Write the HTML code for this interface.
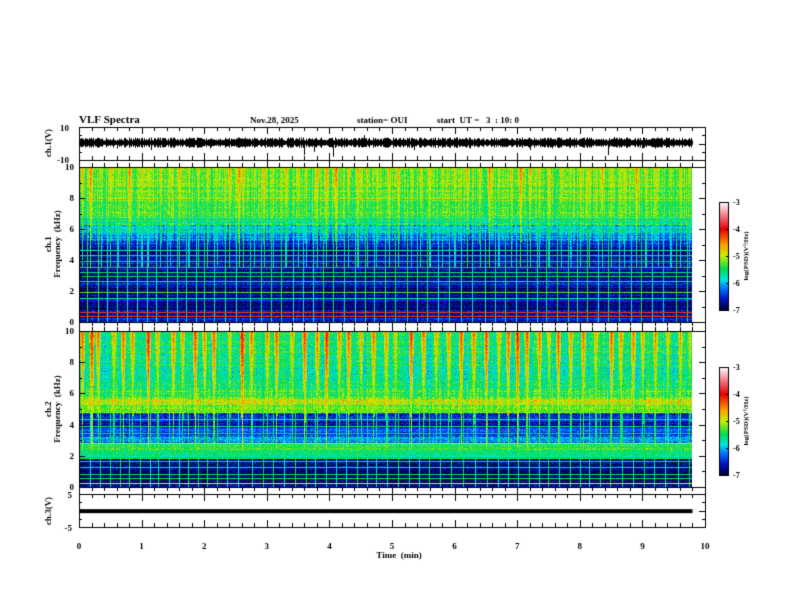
<!DOCTYPE html>
<html><head><meta charset="utf-8"><style>
body{margin:0;background:#fff;}
#wrap{position:relative;width:792px;height:612px;overflow:hidden;font-family:"Liberation Serif",serif;font-weight:bold;}
canvas{position:absolute;left:0;top:0;}
</style></head><body>
<div id="wrap">
<canvas id="c" width="792" height="612"></canvas>
</div>
<script>
// ---- data ----
const xTicks = [0,1,2,3,4,5,6,7,8,9,10];
const specTicks = [0,2,4,6,8,10];
const cbTicks = [-3,-4,-5,-6,-7];
// background log PSD per 0.5 kHz band (0..10 kHz)
const bands1 = [-6.6,-6.7,-6.8,-6.7,-6.8,-6.6,-6.8,-6.7,-6.6,-6.8,-6.5,-6.2,-5.9,-5.6,-5.4,-5.35,-5.3,-5.3,-5.25,-5.25,-5.25];
const bands2 = [-6.7,-6.8,-6.9,-6.8,-5.6,-5.5,-6.2,-6.4,-6.6,-6.5,-5.2,-5.1,-5.4,-5.6,-5.7,-5.7,-5.6,-5.6,-5.6,-5.6,-5.6];
// horizontal interference lines (kHz, level)
const hLineF1 = [4.6,4.3,3.9,3.5,3.2,2.9,2.6,1.9,1.5,0.6,0.3];
const hLineV1 = [-5.8,-5.6,-5.5,-5.6,-5.6,-5.5,-5.7,-5.3,-5.7,-4.2,-4.2];
const hLineF2 = [4.3,3.9,3.4,2.8,1.9,1.6,1.2,0.8,0.5,0.2];
const hLineV2 = [-5.7,-5.6,-5.5,-4.9,-5.5,-5.6,-5.5,-5.6,-5.5,-5.0];
// burst times (min) and peak log PSD
const burstT1 = [0.05,0.18,0.35,0.5,0.62,0.8,1.0,1.1,1.3,1.45,1.6,1.75,1.9,2.05,2.2,2.4,2.55,2.62,2.8,2.95,3.1,3.3,3.5,3.62,3.8,3.95,4.1,4.3,4.45,4.6,4.75,4.95,5.1,5.3,5.45,5.6,5.8,6.0,6.2,6.4,6.55,6.7,6.9,7.05,7.2,7.35,7.5,7.7,7.85,8.0,8.15,8.35,8.5,8.7,8.9,9.05,9.25,9.45,9.6,9.75];
const burstA1 = [-4.5,-4.3,-4.8,-4.6,-4.9,-4.4,-4.7,-4.8,-4.6,-4.9,-4.5,-4.8,-4.7,-4.6,-4.9,-4.5,-4.3,-4.6,-4.8,-4.5,-4.9,-4.6,-4.7,-4.8,-4.5,-4.4,-4.3,-4.6,-4.5,-4.7,-4.8,-4.6,-4.5,-4.9,-4.7,-4.6,-4.8,-4.7,-4.5,-4.6,-4.4,-4.8,-4.6,-4.3,-4.5,-4.7,-4.6,-4.8,-4.9,-4.7,-4.6,-4.5,-4.8,-4.7,-4.4,-4.6,-4.9,-4.8,-4.7,-4.9];
const burstT2 = [0.05,0.2,0.3,0.55,0.7,0.85,1.1,1.25,1.5,1.65,1.85,2.0,2.15,2.4,2.6,2.75,3.0,3.15,3.4,3.6,3.8,3.95,4.15,4.3,4.5,4.7,4.9,5.05,5.3,5.5,5.7,5.9,6.1,6.3,6.5,6.7,6.85,7.0,7.15,7.35,7.5,7.65,7.85,8.05,8.25,8.5,8.65,8.85,9.0,9.2,9.4,9.6,9.75];
const burstA2 = [-4.2,-4.0,-4.3,-4.5,-4.2,-4.4,-4.0,-4.5,-4.3,-4.5,-4.1,-4.4,-4.2,-4.6,-3.9,-4.3,-4.4,-4.2,-4.5,-4.1,-4.3,-4.0,-4.4,-4.2,-4.5,-4.3,-4.4,-4.6,-4.1,-4.3,-4.5,-4.4,-4.2,-4.3,-4.1,-4.5,-4.2,-4.0,-4.2,-4.3,-4.6,-4.2,-4.4,-4.3,-4.5,-4.2,-4.4,-4.3,-4.5,-4.4,-4.6,-4.5,-4.7];
// thin full-height vertical lines (min)
const vLineT = [0.1,0.27,0.42,0.58,0.73,0.9,1.06,1.2,1.37,1.53,1.68,1.83,1.97,2.13,2.3,2.47,2.7,2.87,3.03,3.2,3.38,3.55,3.7,3.87,4.03,4.2,4.37,4.53,4.68,4.85,5.02,5.2,5.37,5.53,5.7,5.87,6.07,6.25,6.45,6.62,6.78,6.95,7.12,7.28,7.43,7.6,7.78,7.93,8.08,8.25,8.42,8.6,8.78,8.95,9.12,9.3,9.5,9.68];
// ch1 waveform spikes (min, volts)
const spikeT = [0.6,1.15,2.1,3.6,3.75,4.05,4.55,5.35,6.25,7.2,7.55,8.45,8.55,9.0,9.2];
const spikeV = [-3,-4,-3,-7,-5,-8,5,-4,-3,-4,-3,-7,4,-3,-3];
const dataEnd = 9.8;

// ---- geometry ----
const X0=79, X1=705;
const P1={t:127,b:160}, S1={t:167,b:322}, S2={t:331,b:487}, P3={t:494,b:527};
const xs = m => X0 + (X1-X0)*m/10;
const c=document.getElementById('c'), g=c.getContext('2d');

function cmap(v){
  const stops=[[-7,[0,0,60]],[-6.6,[0,20,200]],[-6.2,[0,120,255]],[-5.9,[0,230,230]],[-5.5,[0,220,80]],[-5.0,[200,240,0]],[-4.6,[255,160,0]],[-4.0,[230,0,0]],[-3.5,[240,120,130]],[-3,[255,255,255]]];
  if(v<=stops[0][0])return stops[0][1];
  for(let i=1;i<stops.length;i++){if(v<=stops[i][0]){const a=stops[i-1],b=stops[i],f=(v-a[0])/(b[0]-a[0]);return a[1].map((q,k)=>q+(b[1][k]-q)*f);}}
  return stops[stops.length-1][1];
}
function hash(a,b){let h=(a*374761393+b*668265263)|0;h=(h^(h>>>13))*1274126177|0;return ((h^(h>>>16))>>>0)/4294967295;}

function drawSpec(P,bands,bT,bA,minF,hF,hV,seed){
  const w=Math.round(xs(dataEnd)-X0), h=P.b-P.t, pxm=xs(1)-X0;
  const img=g.createImageData(w,h);
  const rowNoise=[];for(let y=0;y<h;y++)rowNoise.push((hash(y,seed)-0.5)*0.35);
  const colNoise=[];for(let x=0;x<w;x++)colNoise.push((hash(seed,x)-0.5)*0.5);
  const vx=vLineT.map(t=>Math.round((t+seed*0.003)*pxm));
  const hy=hF.map(f=>Math.round((h-1)*(1-f/10)));
  for(let y=0;y<h;y++){
    const f=10*(h-1-y)/(h-1); const bi=Math.min(20,Math.round(f*2));
    for(let x=0;x<w;x++){
      const m=x/pxm;
      let v=bands[bi]+rowNoise[y]+colNoise[x]*(f>5?1:0.3)+(hash(x*7+y,seed)-0.5)*0.5;
      for(let i=0;i<bT.length;i++){
        const d=Math.abs(m-bT[i])*pxm;
        const fr=Math.max(0,(f-minF)/(10-minF));
        const hw=0.6+fr*2.2;
        if(d<hw && f>minF-1.5){const bv=bA[i]-(1-fr)*1.0-d*0.3+(hash(x,y*3+i)-0.5)*0.5; if(bv>v)v=bv;}
      }
      for(let k=0;k<vx.length;k++){if(x===vx[k]){v=Math.max(v,-5.7+(hash(k,seed)-0.5)*0.6);}}
      for(let k=0;k<hy.length;k++){if(y===hy[k]){v=Math.max(v,hV[k]);}}
      const col=cmap(v),k=(y*w+x)*4;
      img.data[k]=col[0];img.data[k+1]=col[1];img.data[k+2]=col[2];img.data[k+3]=255;
    }
  }
  g.putImageData(img,X0,P.t);
}
drawSpec(S1,bands1,burstT1,burstA1,5.0,hLineF1,hLineV1,11);
drawSpec(S2,bands2,burstT2,burstA2,4.0,hLineF2,hLineV2,23);

// ch1 waveform
g.fillStyle='#000';
const yv1=v=>P1.t+(P1.b-P1.t)*(10-v)/20;
for(let x=X0;x<xs(dataEnd);x++){const a=1.2+hash(x,5)*2.0;g.fillRect(x,yv1(0.5+a),1,yv1(0.5-a)-yv1(0.5+a));}
for(let i=0;i<spikeT.length;i++){const x=Math.round(xs(spikeT[i]));g.fillRect(x,Math.min(yv1(0.5),yv1(spikeV[i])),1,Math.abs(yv1(spikeV[i])-yv1(0.5)));}
// ch3 line
const yv3=v=>P3.t+(P3.b-P3.t)*(5-v)/10;
g.fillRect(X0,yv3(-0.2)-2,xs(dataEnd)-X0,4);

// frames & ticks
g.strokeStyle='#000';g.lineWidth=1;
function frame(P){g.strokeRect(X0+0.5,P.t+0.5,X1-X0,P.b-P.t);}
[P1,S1,S2,P3].forEach(frame);
function xticks(P){
  for(let i=0;i<=50;i++){const x=Math.round(xs(i/5))+0.5,L=i%5==0?7:4;
    g.beginPath();g.moveTo(x,P.t);g.lineTo(x,P.t+L);g.moveTo(x,P.b);g.lineTo(x,P.b-L);g.stroke();}
}
[P1,P3].forEach(xticks);
[S1,S2].forEach(P=>{for(let i=0;i<=50;i++){const x=Math.round(xs(i/5))+0.5,L=i%5==0?7:4;g.beginPath();g.moveTo(x,P.b);g.lineTo(x,P.b+L);g.moveTo(x,P.t);g.lineTo(x,P.t-L);g.stroke();}});
function yticks(P,n){for(let i=0;i<=n;i++){const y=Math.round(P.t+(P.b-P.t)*i/n)+0.5,L=i%2==0?6:3;g.beginPath();g.moveTo(X0,y);g.lineTo(X0+L,y);g.moveTo(X1,y);g.lineTo(X1-L,y);g.stroke();}}
yticks(S1,10);yticks(S2,10);yticks(P1,4);yticks(P3,4);

// colorbars
function cbar(top){
  const x=719,w=9,h=108;
  for(let y=0;y<h;y++){const v=-3-4*y/(h-1);const col=cmap(v);g.fillStyle=`rgb(${col.map(Math.round).join(',')})`;g.fillRect(x,top+y,w,1);}
  g.strokeStyle='#000';g.strokeRect(x+0.5,top+0.5,w,h);
  g.fillStyle='#000';g.font='bold 8px "Liberation Serif", serif';
  cbTicks.forEach(t=>{const y=top+h*(-3-t)/4;g.fillRect(x+w-2,Math.round(y),3,1);g.fillText(String(t),x+w+5,y+3);});
  g.save();g.translate(748,top+h/2);g.rotate(-Math.PI/2);g.textAlign='center';g.font='bold 7px "Liberation Serif", serif';g.fillText('log(PSD)(V²/Hz)',0,0);g.restore();
}
cbar(202);cbar(367);

// text
g.fillStyle='#000';
g.font='bold 11px "Liberation Serif", serif';g.fillText('VLF Spectra',79,123);
g.font='bold 9px "Liberation Serif", serif';
g.fillText('Nov.28, 2025',250,123);g.fillText('station= OUI',357,123);g.fillText('start  UT =   3  : 10: 0',437,123);
g.textAlign='right';
g.fillText('10',69,131);g.fillText('-10',69,163);
[S1,S2].forEach(P=>specTicks.forEach(t=>g.fillText(String(t),74,P.b-(P.b-P.t)*t/10+3)));
g.fillText('5',72,498);g.fillText('-5',72,531);
g.textAlign='center';
xTicks.forEach(t=>g.fillText(String(t),xs(t),549));
g.fillText('Time  (min)',399,558);
function vlabel(txt,x,y){g.save();g.translate(x,y);g.rotate(-Math.PI/2);g.fillText(txt,0,0);g.restore();}
vlabel('ch.1(V)',51,143);vlabel('ch.3(V)',51,511);
vlabel('ch.1',51,244);vlabel('Frequency  (kHz)',60,244);
vlabel('ch.2',51,409);vlabel('Frequency  (kHz)',60,409);
</script>
</body></html>
